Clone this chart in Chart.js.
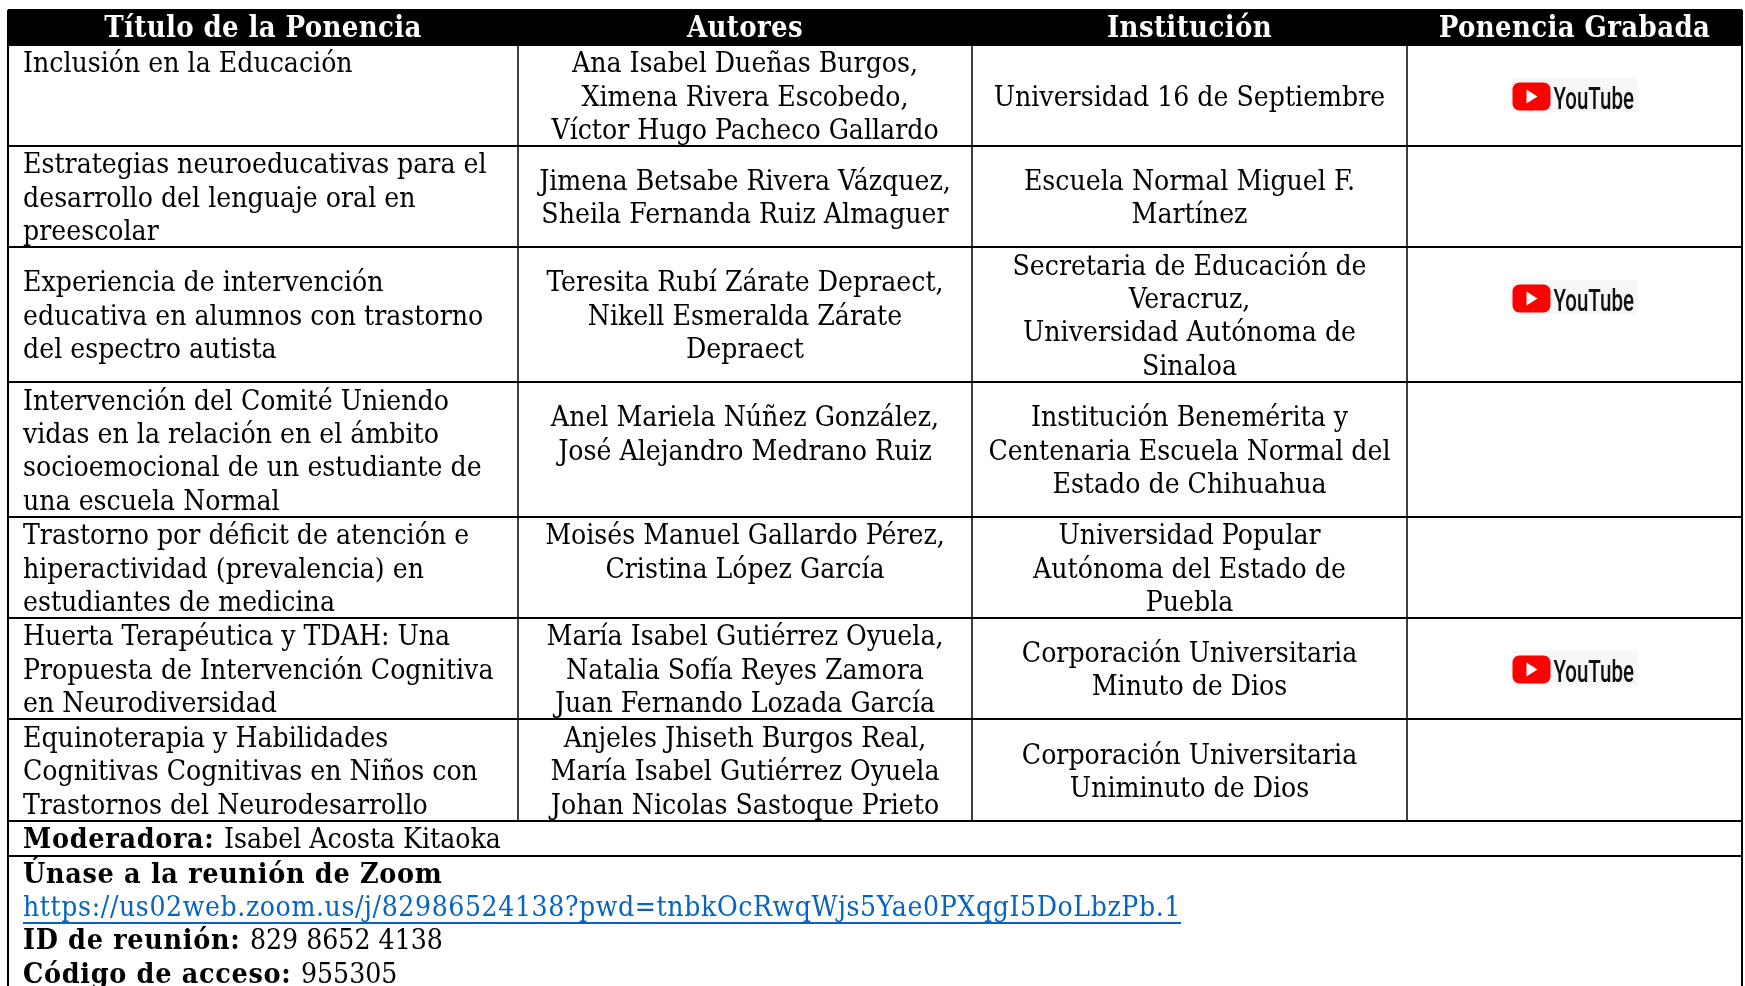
<!DOCTYPE html>
<html>
<head>
<meta charset="utf-8">
<style>
  html, body { margin: 0; padding: 0; background: #fff; overflow: hidden; }
  canvas { display: block; }
</style>
<script src="https://cdn.jsdelivr.net/npm/chart.js@4"></script>
</head>
<body>
<canvas id="myChart" width="1745" height="986"></canvas>
<script>
const headers = ['Título de la Ponencia', 'Autores', 'Institución', 'Ponencia Grabada'];
const titles = [
  ['Inclusión en la Educación'],
  ['Estrategias neuroeducativas para el', 'desarrollo del lenguaje oral en', 'preescolar'],
  ['Experiencia de intervención', 'educativa en alumnos con trastorno', 'del espectro autista'],
  ['Intervención del Comité Uniendo', 'vidas en la relación en el ámbito', 'socioemocional de un estudiante de', 'una escuela Normal'],
  ['Trastorno por déficit de atención e', 'hiperactividad (prevalencia) en', 'estudiantes de medicina'],
  ['Huerta Terapéutica y TDAH: Una', 'Propuesta de Intervención Cognitiva', 'en Neurodiversidad'],
  ['Equinoterapia y Habilidades', 'Cognitivas Cognitivas en Niños con', 'Trastornos del Neurodesarrollo']
];
// the empty lines are blank paragraphs in the source cells
const authors = [
  ['Ana Isabel Dueñas Burgos,', 'Ximena Rivera Escobedo,', 'Víctor Hugo Pacheco Gallardo'],
  ['Jimena Betsabe Rivera Vázquez,', 'Sheila Fernanda Ruiz Almaguer'],
  ['Teresita Rubí Zárate Depraect,', 'Nikell Esmeralda Zárate', 'Depraect'],
  ['Anel Mariela Núñez González,', 'José Alejandro Medrano Ruiz', ''],
  ['Moisés Manuel Gallardo Pérez,', 'Cristina López García', ''],
  ['María Isabel Gutiérrez Oyuela,', 'Natalia Sofía Reyes Zamora', 'Juan Fernando Lozada García'],
  ['Anjeles Jhiseth Burgos Real,', 'María Isabel Gutiérrez Oyuela', 'Johan Nicolas Sastoque Prieto']
];
const institutions = [
  ['Universidad 16 de Septiembre'],
  ['Escuela Normal Miguel F.', 'Martínez'],
  ['Secretaria de Educación de', 'Veracruz,', 'Universidad Autónoma de', 'Sinaloa'],
  ['Institución Benemérita y', 'Centenaria Escuela Normal del', 'Estado de Chihuahua'],
  ['Universidad Popular', 'Autónoma del Estado de', 'Puebla'],
  ['Corporación Universitaria', 'Minuto de Dios'],
  ['Corporación Universitaria', 'Uniminuto de Dios']
];
const recorded = [true, false, true, false, false, true, false];
const footerLines = [
  [['Moderadora: ', true], ['Isabel Acosta Kitaoka', false]],
  [['Únase a la reunión de Zoom', true]],
  [['https://us02web.zoom.us/j/82986524138?pwd=tnbkOcRwqWjs5Yae0PXqgI5DoLbzPb.1', false, 'link']],
  [['ID de reunión: ', true], ['829 8652 4138', false]],
  [['Código de acceso: ', true], ['955305', false]]
];

// table layout, in scale units (same as page pixels)
const colEdges = [8, 518, 972, 1407, 1742];
const rowEdges = [10, 45, 146, 247, 382, 517, 618, 719, 821, 856];
const footerY = [841, 876, 909, 942, 976];
const logoShift = [0, 0, -17, 0, 0, 0, 0];
const lineHeight = 33.4;
const condensed = '"DejaVu Serif Condensed", serif';
const bodyFont = '28.1px ' + condensed;
const boldFont = 'bold 28.4px ' + condensed;
const headFont = 'bold 29px ' + condensed;
const linkWidth = 1158;
const textShift = 3;

const ctx = document.getElementById('myChart');

const drawLogo = (c, cx, cy) => {
  c.save();
  c.fillStyle = '#f7f7f7';
  c.fillRect(cx - 63, cy - 18, 126, 35);
  c.fillStyle = '#ff0000';
  c.beginPath();
  c.roundRect(cx - 62, cy - 13, 38, 28, 7);
  c.fill();
  c.fillStyle = '#ffffff';
  c.beginPath();
  c.moveTo(cx - 48, cy - 6);
  c.lineTo(cx - 37, cy + 1);
  c.lineTo(cx - 48, cy + 8);
  c.closePath();
  c.fill();
  c.fillStyle = '#111111';
  c.translate(cx - 21, cy + 13);
  c.scale(0.64, 1);
  c.font = '500 32px Roboto, sans-serif';
  c.textAlign = 'left';
  c.textBaseline = 'alphabetic';
  c.fillText('YouTube', 0, 0);
  c.restore();
};

// header band, cell text and logos are placed through the chart scales
const tablePlugin = {
  id: 'tablePlugin',
  beforeDatasetsDraw(chart) {
    const c = chart.ctx;
    const { x, y } = chart.scales;
    c.save();
    c.fillStyle = '#000';
    c.fillRect(x.getPixelForValue(colEdges[0]), y.getPixelForValue(rowEdges[0]),
      x.getPixelForValue(colEdges[4]) - x.getPixelForValue(colEdges[0]),
      y.getPixelForValue(rowEdges[1]) - y.getPixelForValue(rowEdges[0]));
    c.restore();
  },
  afterDatasetsDraw(chart) {
    const c = chart.ctx;
    const { x, y } = chart.scales;
    c.save();
    c.textBaseline = 'middle';

    // header
    c.fillStyle = '#fff';
    c.textAlign = 'center';
    c.font = headFont;
    c.letterSpacing = '0.36px';
    headers.forEach((h, i) => {
      c.fillText(h, x.getPixelForValue((colEdges[i] + colEdges[i + 1]) / 2), y.getPixelForValue(29));
    });
    c.letterSpacing = '0px';

    // body
    c.fillStyle = '#000';
    c.font = bodyFont;
    titles.forEach((_, r) => {
      const top = rowEdges[r + 1];
      const mid = (top + rowEdges[r + 2]) / 2;
      const cell = (lines, col, align) => {
        const start = r === 0 && col === 0
          ? top + 17
          : mid - (lines.length - 1) * lineHeight / 2;
        c.textAlign = align;
        lines.forEach((line, l) => {
          const px = align === 'left' ? colEdges[col] + 15 : (colEdges[col] + colEdges[col + 1]) / 2;
          c.fillText(line, x.getPixelForValue(px), y.getPixelForValue(start + l * lineHeight + textShift));
        });
      };
      cell(titles[r], 0, 'left');
      cell(authors[r], 1, 'center');
      cell(institutions[r], 2, 'center');
      if (recorded[r]) {
        drawLogo(c, x.getPixelForValue((colEdges[3] + colEdges[4]) / 2), y.getPixelForValue(mid + logoShift[r]));
      }
    });

    // footer
    c.textAlign = 'left';
    footerLines.forEach((parts, i) => {
      let px = x.getPixelForValue(colEdges[0] + 15);
      const py = y.getPixelForValue(footerY[i]);
      parts.forEach(([text, bold, kind]) => {
        c.font = bold ? boldFont : bodyFont;
        c.fillStyle = kind === 'link' ? '#0563c1' : '#000';
        c.letterSpacing = bold ? '0.7px' : '0px';
        if (kind === 'link') {
          const natural = c.measureText(text).width;
          c.letterSpacing = (linkWidth - natural) / text.length + 'px';
        }
        c.fillText(text, px, py);
        const w = c.measureText(text).width;
        if (kind === 'link') {
          c.fillRect(px, py + 13, w, 2);
        }
        px += w;
      });
    });
    c.restore();
  }
};

// vertical rules as two-point line datasets
const vertical = (value, from, to) => ({
  type: 'line',
  data: [{ x: value, y: from }, { x: value, y: to }],
  borderColor: '#000',
  borderWidth: value === colEdges[0] || value === colEdges[4] ? 2 : 1.5,
  pointRadius: 0,
  showLine: true,
  clip: false
});

new Chart(ctx, {
  type: 'scatter',
  data: {
    datasets: [
      vertical(colEdges[0], rowEdges[0], 986),
      vertical(colEdges[1], rowEdges[1], rowEdges[8]),
      vertical(colEdges[2], rowEdges[1], rowEdges[8]),
      vertical(colEdges[3], rowEdges[1], rowEdges[8]),
      vertical(colEdges[4], rowEdges[0], 986)
    ]
  },
  plugins: [tablePlugin],
  options: {
    responsive: false,
    animation: false,
    layout: { padding: { left: colEdges[0], right: 1745 - colEdges[4], top: 0, bottom: 0 } },
    plugins: { legend: { display: false }, tooltip: { enabled: false } },
    scales: {
      x: {
        type: 'linear',
        min: colEdges[0],
        max: colEdges[4],
        ticks: { display: false },
        border: { display: false },
        grid: { display: false, drawTicks: false }
      },
      y: {
        type: 'linear',
        min: 0,
        max: 986,
        reverse: true,
        ticks: { display: false },
        border: { display: false },
        grid: { color: '#000', lineWidth: 2, drawTicks: false },
        afterBuildTicks: (axis) => {
          axis.ticks = rowEdges.map((v) => ({ value: v }));
        }
      }
    }
  }
});
</script>
</body>
</html>
